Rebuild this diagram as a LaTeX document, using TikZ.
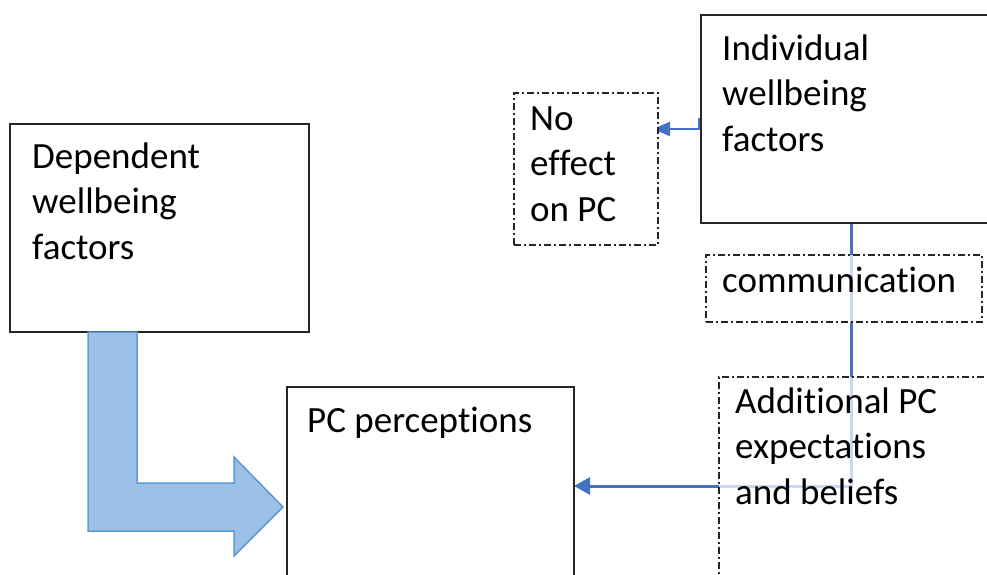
\documentclass[tikz,border=0pt]{standalone}
\usepackage{fontspec}
\setmainfont[Ligatures={NoCommon}]{Carlito}
\usetikzlibrary{arrows.meta}
\definecolor{conn}{HTML}{4472C4}
\definecolor{bigfill}{HTML}{9DC0E6}
\definecolor{bigline}{HTML}{5B9BD5}
\definecolor{boxline}{HTML}{262626}
\tikzset{
  solidbox/.style={draw=boxline, line width=1.8pt, fill=white, inner sep=0pt, outer sep=0pt, anchor=north west},
  dashbox/.style={draw=boxline, line width=1.2pt, dash pattern=on 7pt off 3pt on 2pt off 3pt, fill=white, inner sep=0pt, outer sep=0pt, anchor=north west},
  veil/.style={fill opacity=0.72, text opacity=1},
  txt/.style={anchor=base west, align=left, inner sep=0pt, font=\fontsize{37}{45.5}\selectfont},
  connector/.style={draw=conn, line width=3pt, -{Triangle[length=16pt,width=17pt]}},
  smallconn/.style={draw=conn, line width=2.3pt, -{Triangle[length=17pt,width=14pt]}},
}
\begin{document}
\begin{tikzpicture}[x=1pt,y=-1pt]
\useasboundingbox (0,0) rectangle (987,575);
\clip (0,0) rectangle (987,575);
\fill[white] (0,0) rectangle (987,575);

% connectors (drawn first; boxes partly veil them)
\coordinate (indbot) at (851,223);
\coordinate (indleft) at (701,119);
\coordinate (bend) at (851,486);
\coordinate (pcright) at (574,486);
\coordinate (noright) at (653,129);
\draw[connector] (indbot) -- (bend) -- (pcright);
\draw[smallconn] (indleft) -- (699,119) -- (699,129) -- (noright);

% boxes
\node[solidbox, minimum width=299pt, minimum height=208pt] (dep) at (10,124) {};
\node[solidbox, minimum width=310pt, minimum height=208pt] (ind) at (701,15) {};
\node[dashbox, minimum width=144pt, minimum height=152pt] (noeff) at (514,93) {};
\node[dashbox, veil, minimum width=276pt, minimum height=67pt] (comm) at (706,255) {};
\node[dashbox, veil, minimum width=300pt, minimum height=220pt] (add) at (719,377) {};
\node[solidbox, minimum width=287pt, minimum height=210pt] (pc) at (287,387) {};

% big L arrow
\filldraw[fill=bigfill, draw=bigline, line width=1.5pt, line join=miter]
  (88,332) -- (137,332) -- (137,483) -- (234,483) -- (234,457) -- (283,507)
  -- (234,556) -- (234,531) -- (88,531) -- cycle;

% texts (base anchor = baseline of the last line)
\node[txt] (tdep) at (32,259) {Dependent\\wellbeing\\factors};
\node[txt] (tind) at (722,151) {Individual\\wellbeing\\factors};
\node[txt] (tno) at (530,221) {No\\effect\\on PC};
\node[txt] (tcomm) at (722,292) {communication};
\node[txt] (tadd) at (735,504) {Additional PC\\expectations\\and beliefs};
\node[txt] (tpc) at (307,432) {PC perceptions};
\end{tikzpicture}
\end{document}
